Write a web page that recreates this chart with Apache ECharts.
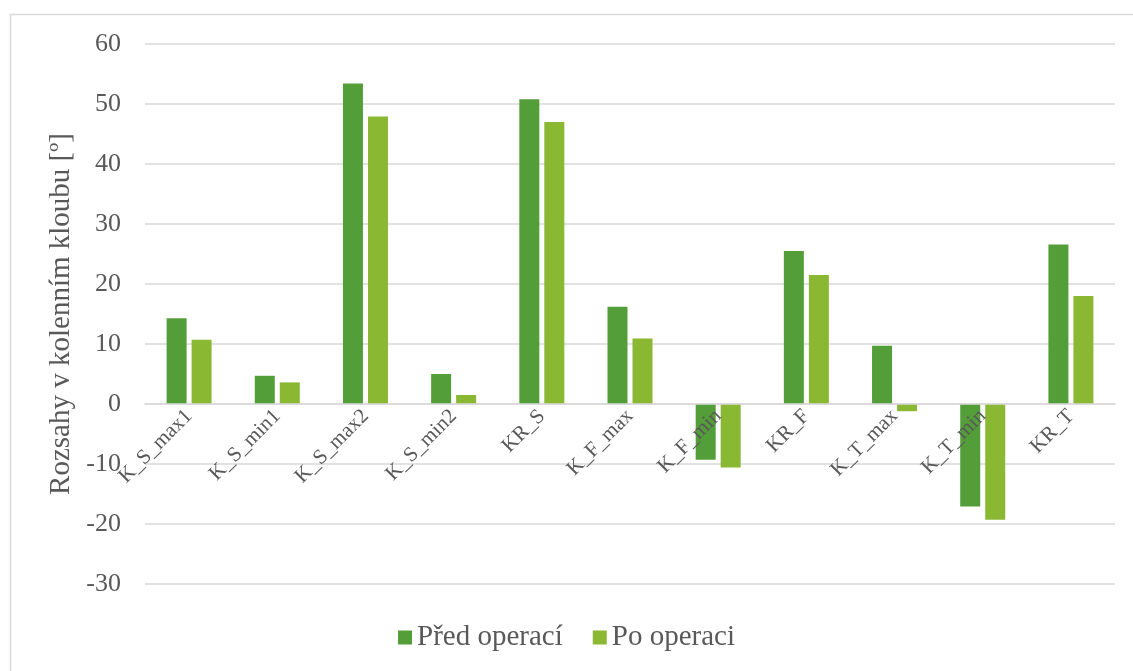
<!DOCTYPE html>
<html>
<head>
<meta charset="utf-8">
<script src="https://cdn.jsdelivr.net/npm/echarts@6/dist/echarts.min.js"></script>
<style>
  html, body { margin: 0; padding: 0; background: #fff; }
  #chart { width: 1133px; height: 671px; }
</style>
</head>
<body>
<div id="chart"></div>
<script>
var categories = ['K_S_max1', 'K_S_min1', 'K_S_max2', 'K_S_min2', 'KR_S', 'K_F_max', 'K_F_min', 'KR_F', 'K_T_max', 'K_T_min', 'KR_T'];
var predOperaci = [14.3, 4.7, 53.4, 5.0, 50.8, 16.2, -9.3, 25.5, 9.7, -17.1, 26.6];
var poOperaci = [10.7, 3.6, 47.9, 1.5, 47.0, 10.9, -10.6, 21.5, -1.2, -19.3, 18.0];

var font = "'Liberation Serif', 'Times New Roman', serif";
var textColor = '#595959';

var chart = echarts.init(document.getElementById('chart'));
chart.setOption({
  backgroundColor: '#ffffff',
  animation: false,
  textStyle: { fontFamily: font, color: textColor },
  graphic: [{
    type: 'rect',
    shape: { x: 10.5, y: 14.5, width: 1200, height: 700 },
    style: { fill: 'none', stroke: '#D9D9D9', lineWidth: 1.5 },
    silent: true
  }],
  legend: {
    data: ['Před operací', 'Po operaci'],
    bottom: 14,
    left: 'center',
    itemWidth: 14,
    itemHeight: 14,
    itemGap: 30,
    icon: 'rect',
    textStyle: { fontFamily: font, fontSize: 29, color: textColor }
  },
  grid: {
    left: 145,
    right: 18,
    top: 44,
    bottom: 87,
    containLabel: false
  },
  xAxis: {
    type: 'category',
    data: categories,
    z: 10,
    // sit the axis (line + labels) on the zero line: 0 is 180px above the bottom
    offset: -180,
    axisLine: { onZero: false, lineStyle: { color: '#D9D9D9', width: 1.5 } },
    axisTick: { show: false },
    axisLabel: {
      rotate: 45,
      interval: 0,
      margin: 9,
      fontFamily: font,
      fontSize: 21,
      color: textColor
    },
    splitLine: { show: false }
  },
  yAxis: {
    type: 'value',
    min: -30,
    max: 60,
    interval: 10,
    name: 'Rozsahy v kolenním kloubu [º]',
    nameLocation: 'middle',
    nameGap: 66,
    nameTextStyle: { fontFamily: font, fontSize: 29, color: textColor },
    axisLine: { show: false },
    axisTick: { show: false },
    axisLabel: { margin: 24, fontFamily: font, fontSize: 26, color: textColor },
    splitLine: { lineStyle: { color: '#D9D9D9', width: 1.5 } }
  },
  series: [
    {
      name: 'Před operací',
      type: 'bar',
      data: predOperaci,
      barWidth: 20,
      barGap: '25%',
      itemStyle: { color: '#549E39' }
    },
    {
      name: 'Po operaci',
      type: 'bar',
      data: poOperaci,
      barWidth: 20,
      itemStyle: { color: '#8AB833' }
    }
  ]
});
</script>
</body>
</html>
